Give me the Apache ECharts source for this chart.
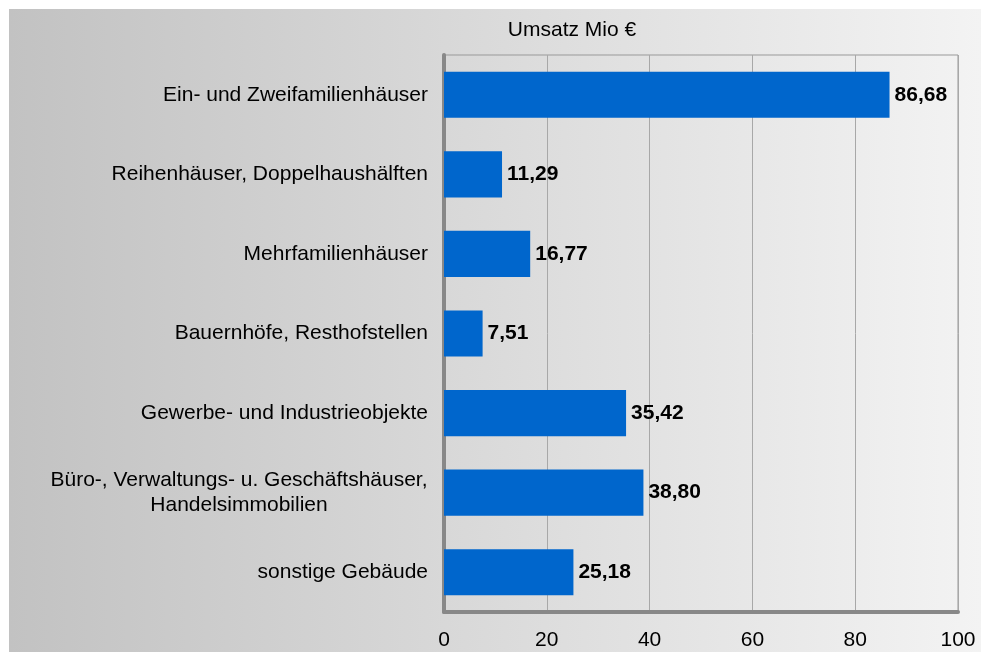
<!DOCTYPE html>
<html><head><meta charset="utf-8">
<script src="https://cdn.jsdelivr.net/npm/echarts@6/dist/echarts.min.js"></script>
<style>html,body{margin:0;padding:0;background:#fff}#c{width:983px;height:652px}</style>
</head><body><div id="c"></div>
<script>
var categories = ['Ein- und Zweifamilienhäuser','Reihenhäuser, Doppelhaushälften','Mehrfamilienhäuser','Bauernhöfe, Resthofstellen','Gewerbe- und Industrieobjekte','Büro-, Verwaltungs- u. Geschäftshäuser,\nHandelsimmobilien','sonstige Gebäude'];
var values = [86.68, 11.29, 16.77, 7.51, 35.42, 38.80, 25.18];
var titleText = 'Umsatz Mio €';
var chart = echarts.init(document.getElementById('c'));
var font = '"Liberation Sans", Arial, sans-serif';
var fs = 21;
chart.setOption({
  animation: false,
  graphic: [{
    type: 'rect', z: -10, silent: true,
    shape: {x: 9, y: 9, width: 972, height: 643},
    style: {fill: new echarts.graphic.LinearGradient(0,0,1,0,[{offset:0,color:'#c2c2c2'},{offset:1,color:'#f3f3f3'}])}
  }],
  title: {text: titleText, left: 567, top: 15, textAlign: 'center',
    textStyle: {fontFamily: font, fontSize: fs, fontWeight: 'normal', color: '#000'}},
  grid: {left: 444, right: 25, top: 55, bottom: 40, show: true, borderColor: '#999', borderWidth: 1, backgroundColor: 'transparent'},
  xAxis: {type: 'value', min: 0, max: 100, interval: 20,
    axisLine: {show: true, lineStyle: {color: '#888', width: 4}},
    axisTick: {show: false},
    splitLine: {show: true, lineStyle: {color: '#a8a8a8', width: 1}},
    axisLabel: {margin: 18, fontFamily: font, fontSize: fs, color: '#000'}},
  yAxis: {type: 'category', data: categories, inverse: true,
    axisLine: {show: true, lineStyle: {color: '#888', width: 4}},
    axisTick: {show: false},
    splitLine: {show: false},
    axisLabel: {margin: 16, fontFamily: font, fontSize: fs, color: '#000',
      formatter: function(v){
        if (v.indexOf('\n') >= 0) {
          var p = v.split('\n');
          return '{c|' + p[0] + '}\n{c|' + p[1] + '}';
        }
        return v;
      },
      rich: {c: {width: 378, align: 'center', fontFamily: font, fontSize: fs, color: '#000', lineHeight: 25}}}},
  series: [{type: 'bar', data: values, barCategoryGap: '42%',
    itemStyle: {color: '#0066cc'},
    label: {show: true, position: 'right', distance: 5, fontFamily: font, fontSize: fs, fontWeight: 'bold', color: '#000',
      formatter: function(p){ return p.value.toFixed(2).replace('.', ','); }}}]
});
</script></body></html>
